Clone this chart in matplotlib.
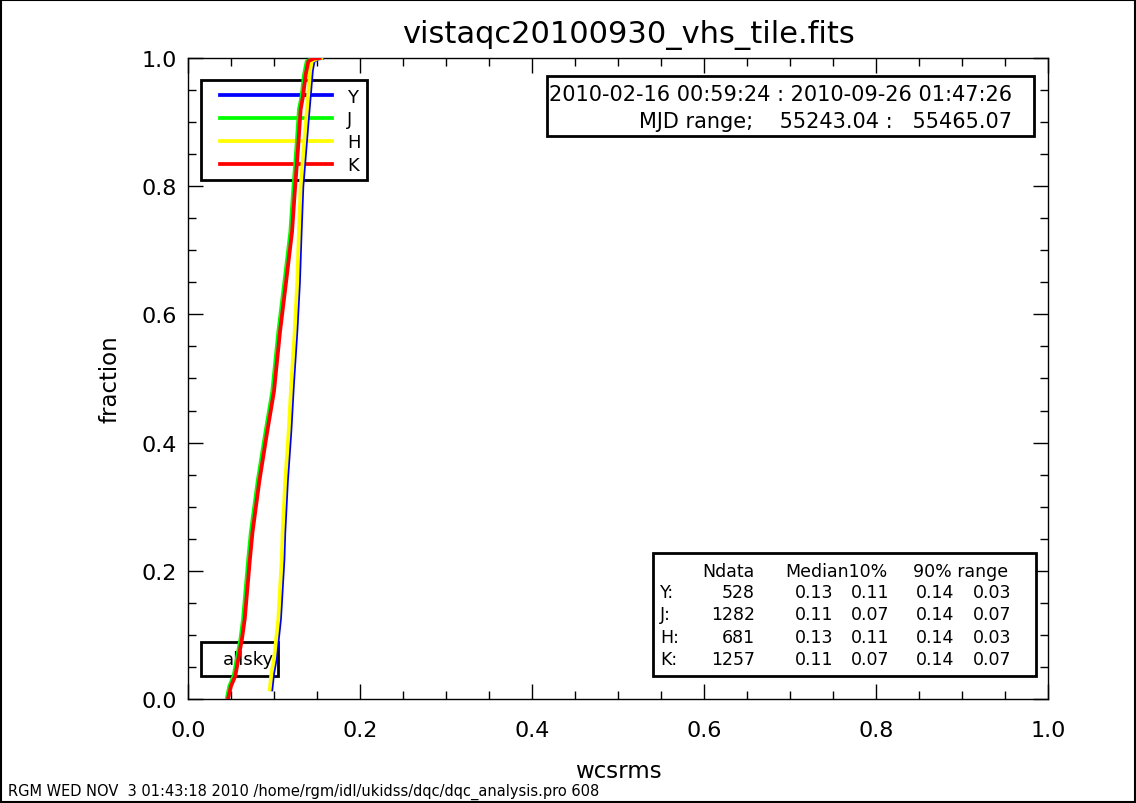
import numpy as np
import matplotlib.pyplot as plt
from matplotlib.patches import Rectangle
from matplotlib.ticker import MultipleLocator

plt.rcParams['font.family'] = ['DejaVu Sans']

# cumulative wcsrms distributions (x = wcsrms, y = fraction)
y_rms = [0.097, 0.099, 0.102, 0.105, 0.107, 0.111, 0.112, 0.115, 0.119, 0.122,
         0.126, 0.129, 0.131, 0.133, 0.136, 0.139, 0.142, 0.144, 0.146, 0.151, 0.156]
y_frac = [0.015, 0.04, 0.062, 0.10, 0.125, 0.218, 0.26, 0.34, 0.417, 0.49,
          0.573, 0.65, 0.729, 0.80, 0.85, 0.90, 0.947, 0.98, 0.995, 0.999, 1.0]

h_rms = [0.095, 0.097, 0.100, 0.103, 0.105, 0.109, 0.110, 0.113, 0.117, 0.120,
         0.124, 0.127, 0.129, 0.131, 0.134, 0.137, 0.140, 0.142, 0.144, 0.150, 0.155]
h_frac = [0.015, 0.04, 0.062, 0.10, 0.125, 0.218, 0.26, 0.34, 0.417, 0.49,
          0.573, 0.65, 0.729, 0.80, 0.85, 0.90, 0.947, 0.98, 0.995, 0.999, 1.0]

j_rms = [0.045, 0.048, 0.053, 0.061, 0.064, 0.070, 0.073, 0.081, 0.090, 0.098,
         0.105, 0.112, 0.119, 0.122, 0.126, 0.129, 0.132, 0.135, 0.138, 0.145, 0.152]
j_frac = [0.0, 0.02, 0.036, 0.094, 0.125, 0.218, 0.26, 0.34, 0.416, 0.48,
          0.573, 0.65, 0.729, 0.788, 0.86, 0.92, 0.94, 0.975, 0.995, 0.999, 1.0]

k_rms = [0.0465, 0.050, 0.055, 0.0628, 0.066, 0.072, 0.075, 0.083, 0.092, 0.100,
         0.107, 0.114, 0.121, 0.124, 0.128, 0.131, 0.1337, 0.137, 0.140, 0.146, 0.153]
k_frac = [0.0, 0.02, 0.036, 0.094, 0.125, 0.218, 0.26, 0.34, 0.416, 0.48,
          0.573, 0.65, 0.729, 0.788, 0.86, 0.92, 0.94, 0.975, 0.995, 0.999, 1.0]

filters = ['Y', 'J', 'H', 'K']
colors = ['#0000ff', '#00ff00', '#ffff00', '#ff0000']

# summary table values
ndata = [528, 1282, 681, 1257]
median = [0.13, 0.11, 0.13, 0.11]
p10 = [0.11, 0.07, 0.11, 0.07]
p90 = [0.14, 0.14, 0.14, 0.14]
rng = [0.03, 0.07, 0.03, 0.07]

title = 'vistaqc20100930_vhs_tile.fits'
date_line = '2010-02-16 00:59:24 : 2010-09-26 01:47:26'
mjd_line = 'MJD range;    55243.04 :   55465.07'
footer = 'RGM WED NOV  3 01:43:18 2010 /home/rgm/idl/ukidss/dqc/dqc_analysis.pro 608'

fig = plt.figure(figsize=(11.36, 8.04), dpi=100)
ax = fig.add_axes([0.1655, 0.1294, 0.757, 0.7972])

# curves go on top of the legend and allsky boxes, as in the original
curves = [(y_rms, y_frac), (j_rms, j_frac), (h_rms, h_frac), (k_rms, k_frac)]
for (xs, ys), name, col in zip(curves, filters, colors):
    ax.plot(xs, ys, color=col, lw=2.7, label=name, zorder=8)

ax.set_xlim(0, 1)
ax.set_ylim(0, 1)
ax.xaxis.set_major_locator(MultipleLocator(0.2))
ax.xaxis.set_minor_locator(MultipleLocator(0.05))
ax.yaxis.set_major_locator(MultipleLocator(0.2))
ax.yaxis.set_minor_locator(MultipleLocator(0.05))
ax.tick_params(which='both', direction='in', top=True, right=True, width=1, labelsize=16)
ax.tick_params(which='major', length=11)
ax.tick_params(which='minor', length=5.5)
ax.tick_params(axis='x', which='major', pad=15)
ax.tick_params(axis='y', which='major', pad=8)
ax.xaxis.set_major_formatter(lambda v, p: f'{v:.1f}')
ax.yaxis.set_major_formatter(lambda v, p: f'{v:.1f}')
for sp in ax.spines.values():
    sp.set_linewidth(1)

ax.set_xlabel('wcsrms', fontsize=16.5, labelpad=14)
ax.set_ylabel('fraction', fontsize=16.5, labelpad=14)
fig.text(0.553, 0.956, title, ha='center', va='center', fontsize=22)

# legend: frame drawn separately so the handles can sit inset like the original
ax.add_patch(Rectangle((0.0148, 0.810), 0.1937, 0.156, transform=ax.transAxes,
                       fill=False, lw=2, ec='k', zorder=4))
leg = ax.legend(loc='upper left', bbox_to_anchor=(0.031, 0.962), fontsize=13,
                handlelength=6.2, handletextpad=0.85, labelspacing=0.26,
                borderaxespad=0, borderpad=0.3, frameon=False)
leg.set_zorder(6)

# allsky box
ax.add_patch(Rectangle((0.0148, 0.036), 0.0899, 0.053, transform=ax.transAxes,
                       fill=False, lw=2, ec='k', zorder=5))
ax.text(0.0995, 0.062, 'allsky', transform=ax.transAxes, ha='right', va='center',
        fontsize=13, zorder=6)

# date range box
ax.add_patch(Rectangle((0.4174, 0.878), 0.5663, 0.094, transform=ax.transAxes,
                       fill=True, fc='white', lw=2, ec='k', zorder=5))
ax.text(0.4195, 0.944, date_line, transform=ax.transAxes, ha='left', va='center',
        fontsize=15, zorder=6)
ax.text(0.958, 0.902, mjd_line, transform=ax.transAxes, ha='right', va='center',
        fontsize=15, zorder=6)

# statistics box
ax.add_patch(Rectangle((0.5407, 0.0359), 0.4453, 0.1919, transform=ax.transAxes,
                       fill=True, fc='white', lw=2, ec='k', zorder=5))
rows_y = [0.167, 0.1326, 0.0967, 0.0624]
kw = dict(transform=ax.transAxes, va='center', fontsize=12.5, zorder=6)
ax.text(0.6593, 0.1997, 'Ndata', ha='right', **kw)
ax.text(0.6942, 0.1997, 'Median10%', ha='left', **kw)
ax.text(0.843, 0.1997, '90% range', ha='left', **kw)
for i, yy in enumerate(rows_y):
    ax.text(0.549, yy, filters[i] + ':', ha='left', **kw)
    ax.text(0.6593, yy, f'{ndata[i]}', ha='right', **kw)
    ax.text(0.75, yy, f'{median[i]:.2f}', ha='right', **kw)
    ax.text(0.816, yy, f'{p10[i]:.2f}', ha='right', **kw)
    ax.text(0.8905, yy, f'{p90[i]:.2f}', ha='right', **kw)
    ax.text(0.958, yy, f'{rng[i]:.2f}', ha='right', **kw)

fig.text(0.007, 0.005, footer, ha='left', va='bottom', fontsize=10.5)

# outer frame of the page
fig.add_artist(Rectangle((0.001, 0.001), 0.998, 0.998, transform=fig.transFigure,
                         fill=False, lw=1.5, ec='k'))

fig.savefig('out.png', dpi=100)
